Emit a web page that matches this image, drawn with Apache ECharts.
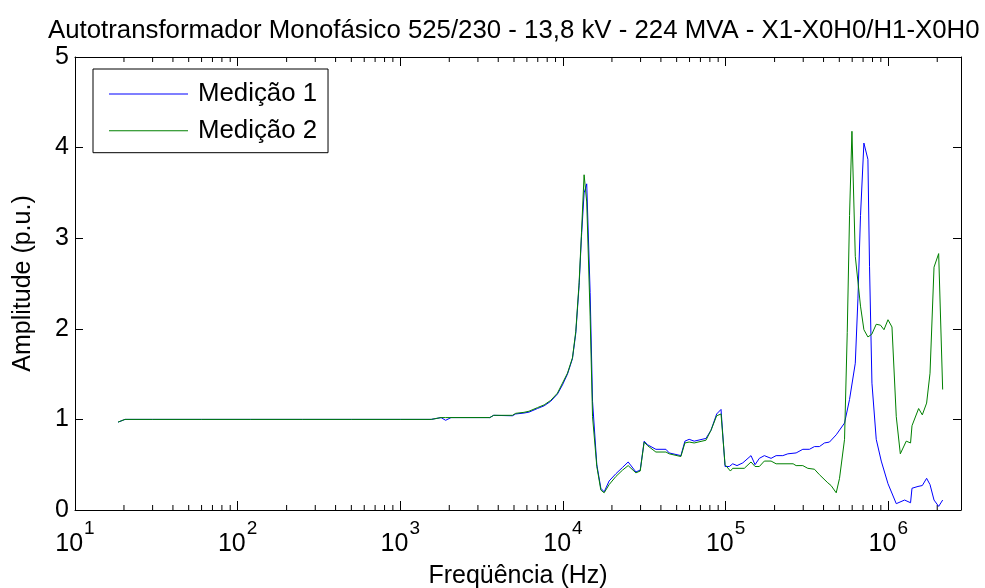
<!DOCTYPE html>
<html><head><meta charset="utf-8">
<script src="https://cdn.jsdelivr.net/npm/echarts@6/dist/echarts.min.js"></script>
<style>html,body{margin:0;padding:0;background:#fff}#c{width:985px;height:588px}</style>
</head><body><div id="c"></div>
<script>
const titleText = 'Autotransformador Monofásico 525/230 - 13,8 kV - 224 MVA - X1-X0H0/H1-X0H0';
const xAxisName = 'Freqüência (Hz)';
const yAxisName = 'Amplitude (p.u.)';
const seriesNames = ['Medição 1', 'Medição 2'];
const yTicks = [0, 1, 2, 3, 4, 5];
const xMin = 10, xMax = 2.8e6;

const freqCommon = [18.4, 20.3, 30, 60, 120, 250, 500, 1000, 1550, 1780, 1900, 2050, 3550, 3750, 4890, 5120, 5760, 6180, 6970, 7660, 8410, 9250, 9930, 10660, 11440, 11990, 12570, 13000, 13490, 14000, 14690, 15200, 16150, 17100, 17920, 19220, 21150, 23240, 25170, 28070, 29850, 31570, 33120, 37260, 42950, 44990, 53090, 56200, 59700, 64100, 75700, 81300, 88100, 93700];
const ampM1Common = [0.97, 1.0, 1.0, 1.0, 1.0, 1.0, 1.0, 1.0, 1.0, 1.02, 0.99, 1.02, 1.02, 1.045, 1.04, 1.06, 1.07, 1.08, 1.12, 1.15, 1.20, 1.28, 1.38, 1.50, 1.67, 1.95, 2.48, 3.02, 3.50, 3.60, 2.40, 1.20, 0.50, 0.24, 0.20, 0.32, 0.40, 0.47, 0.53, 0.42, 0.44, 0.76, 0.72, 0.67, 0.67, 0.63, 0.60, 0.76, 0.78, 0.76, 0.79, 0.88, 1.06, 1.11];
const ampM2Common = [0.97, 1.0, 1.0, 1.0, 1.0, 1.0, 1.0, 1.0, 1.0, 1.02, 1.02, 1.02, 1.02, 1.045, 1.045, 1.067, 1.078, 1.09, 1.13, 1.16, 1.21, 1.29, 1.40, 1.51, 1.68, 1.97, 2.51, 3.06, 3.70, 3.40, 2.14, 1.03, 0.48, 0.22, 0.19, 0.28, 0.37, 0.44, 0.49, 0.41, 0.43, 0.75, 0.71, 0.64, 0.64, 0.62, 0.59, 0.74, 0.75, 0.74, 0.77, 0.88, 1.04, 1.06];

const freqM1High = [99200, 105400, 110600, 117500, 127500, 143300, 151700, 161200, 173000, 190300, 204400, 224700, 241300, 271300, 298300, 327600, 351600, 377300, 405200, 435100, 478700, 538400, 578000, 627000, 650900, 675000, 708200, 749700, 767000, 793600, 843400, 905500, 996000, 1120000, 1260000, 1371000, 1399000, 1523000, 1619000, 1721000, 1806000, 1911000, 2041000, 2160000];
const ampM1High = [0.48, 0.48, 0.51, 0.49, 0.52, 0.60, 0.50, 0.57, 0.60, 0.57, 0.60, 0.60, 0.62, 0.63, 0.67, 0.67, 0.70, 0.70, 0.74, 0.75, 0.83, 0.96, 1.22, 1.62, 2.33, 3.25, 4.05, 3.87, 2.69, 1.40, 0.78, 0.54, 0.29, 0.07, 0.11, 0.08, 0.24, 0.26, 0.27, 0.35, 0.28, 0.11, 0.04, 0.11];

const freqM2High = [99200, 107000, 110600, 130300, 143300, 151700, 161200, 173000, 190300, 204400, 260000, 271300, 298300, 320000, 351600, 377300, 425000, 445000, 478700, 501600, 538400, 559500, 578000, 598000, 627000, 675000, 708200, 749700, 792000, 843400, 896000, 941000, 996000, 1054000, 1120000, 1186000, 1290000, 1371000, 1399000, 1537000, 1619000, 1721000, 1806000, 1911000, 2041000, 2160000];
const ampM2High = [0.50, 0.43, 0.46, 0.46, 0.53, 0.48, 0.48, 0.54, 0.54, 0.51, 0.51, 0.49, 0.49, 0.46, 0.45, 0.39, 0.30, 0.27, 0.19, 0.35, 0.78, 1.96, 3.25, 4.18, 2.80, 2.25, 1.99, 1.91, 1.94, 2.05, 2.04, 1.99, 2.10, 2.02, 1.03, 0.62, 0.76, 0.74, 0.93, 1.12, 1.05, 1.18, 1.51, 2.68, 2.83, 1.33];

const minorMantissas = [2, 3, 4, 5, 6, 7, 8, 9];
const decades = [10, 100, 1000, 10000, 100000, 1000000];

const freqM1 = freqCommon.concat(freqM1High);
const ampM1 = ampM1Common.concat(ampM1High);
const freqM2 = freqCommon.concat(freqM2High);
const ampM2 = ampM2Common.concat(ampM2High);

const minorTicks = [];
decades.forEach(d => minorMantissas.forEach(m => { if (m * d <= xMax) minorTicks.push(m * d); }));

const FONT = '"Liberation Sans", Arial, Helvetica, sans-serif';
const chart = echarts.init(document.getElementById('c'), null, {renderer: 'canvas'});

function expLabel(v) {
  const e = Math.log10(v);
  const r = Math.round(e);
  if (Math.abs(e - r) > 1e-6) return '';
  return '{b|10}{s|' + r + '}';
}

const axisLineStyle = {color: '#000', width: 1};
const yMin = yTicks[0], yMax = yTicks[yTicks.length - 1];
const LEGEND_LINE = 'path://M0,0 L79,0 L79,1 L0,1 Z';

function minorTickSeries(yv, off) {
  return {
    type: 'scatter', xAxisIndex: 0, yAxisIndex: 0, silent: true, clip: false,
    data: minorTicks.map(f => [f, yv]),
    symbol: 'rect', symbolSize: [1, 5], symbolOffset: [0, off],
    itemStyle: {color: '#000', opacity: 1}, z: 2, emphasis: {disabled: true}
  };
}

chart.setOption({
  animation: false,
  backgroundColor: '#fff',
  textStyle: {fontFamily: FONT, color: '#000'},
  title: {
    text: titleText, left: 43, top: 13,
    textStyle: {fontFamily: FONT, fontSize: 25.8, fontWeight: 'normal', color: '#000'}
  },
  grid: {left: 75, right: 24, top: 57, bottom: 78, containLabel: false, outerBoundsMode: 'none'},
  legend: {
    orient: 'vertical', left: 93, top: 69,
    data: seriesNames.map(n => ({name: n, icon: LEGEND_LINE})),
    symbolKeepAspect: true,
    backgroundColor: '#fff', borderColor: '#000', borderWidth: 1, borderRadius: 0,
    padding: [12, 11, 9, 16],
    itemWidth: 79, itemHeight: 14, itemGap: 10.7,
    textStyle: {fontFamily: FONT, fontSize: 25.8, color: '#000', padding: [0, 0, 0, 5]}
  },
  xAxis: [{
    type: 'log', logBase: 10, min: xMin, max: xMax, position: 'bottom',
    axisLine: {show: true, onZero: false, lineStyle: axisLineStyle},
    axisTick: {show: true, inside: true, length: 9, lineStyle: axisLineStyle},
    splitLine: {show: false},
    axisLabel: {
      show: true, margin: 9, showMaxLabel: false, formatter: expLabel,
      rich: {
        b: {fontFamily: FONT, fontSize: 25, color: '#000', verticalAlign: 'bottom', lineHeight: 38},
        s: {fontFamily: FONT, fontSize: 19, color: '#000', verticalAlign: 'top', lineHeight: 38, padding: [0, 0, 0, 1]}
      }
    },
    name: xAxisName, nameLocation: 'middle', nameGap: 54,
    nameTextStyle: {fontFamily: FONT, fontSize: 25, color: '#000'}
  }, {
    type: 'log', logBase: 10, min: xMin, max: xMax, position: 'top',
    axisLine: {show: true, onZero: false, lineStyle: axisLineStyle},
    axisTick: {show: true, inside: true, length: 9, lineStyle: axisLineStyle},
    splitLine: {show: false},
    axisLabel: {show: false}
  }],
  yAxis: [{
    type: 'value', min: yMin, max: yMax, interval: 1, position: 'left',
    axisLine: {show: true, onZero: false, lineStyle: axisLineStyle},
    axisTick: {show: true, inside: true, length: 8, lineStyle: axisLineStyle},
    splitLine: {show: false},
    axisLabel: {show: true, margin: 6, fontFamily: FONT, fontSize: 25, color: '#000'},
    name: yAxisName, nameLocation: 'middle', nameGap: 39,
    nameTextStyle: {fontFamily: FONT, fontSize: 25, color: '#000'}
  }, {
    type: 'value', min: yMin, max: yMax, interval: 1, position: 'right',
    axisLine: {show: true, onZero: false, lineStyle: axisLineStyle},
    axisTick: {show: true, inside: true, length: 8, lineStyle: axisLineStyle},
    splitLine: {show: false},
    axisLabel: {show: false}
  }],
  series: [{
    name: seriesNames[0], type: 'line', symbol: 'none', xAxisIndex: 0, yAxisIndex: 0,
    data: freqM1.map((f, i) => [f, ampM1[i]]),
    lineStyle: {color: '#0000ff', width: 1}, itemStyle: {color: '#0000ff'}, z: 3
  }, {
    name: seriesNames[1], type: 'line', symbol: 'none', xAxisIndex: 0, yAxisIndex: 0,
    data: freqM2.map((f, i) => [f, ampM2[i]]),
    lineStyle: {color: '#008000', width: 1}, itemStyle: {color: '#008000'}, z: 4
  },
  minorTickSeries(yMin, -2.5),
  minorTickSeries(yMax, 2.5)
  ]
});
</script></body></html>
